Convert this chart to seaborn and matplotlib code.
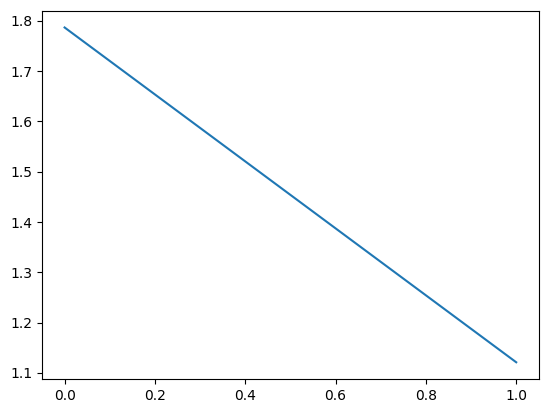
import matplotlib
matplotlib.use('Agg')
import matplotlib.pyplot as plt
import seaborn as sns

# data
x_vals = [0.0, 1.0]
y_vals = [1.787, 1.121]

fig = plt.figure(figsize=(5.47, 4.13), dpi=100)
ax = fig.add_axes([0.0768, 0.0823, 0.9082, 0.8917])
sns.lineplot(x=x_vals, y=y_vals, ax=ax, color='#1f77b4')

fig.savefig('out.png', dpi=100)
